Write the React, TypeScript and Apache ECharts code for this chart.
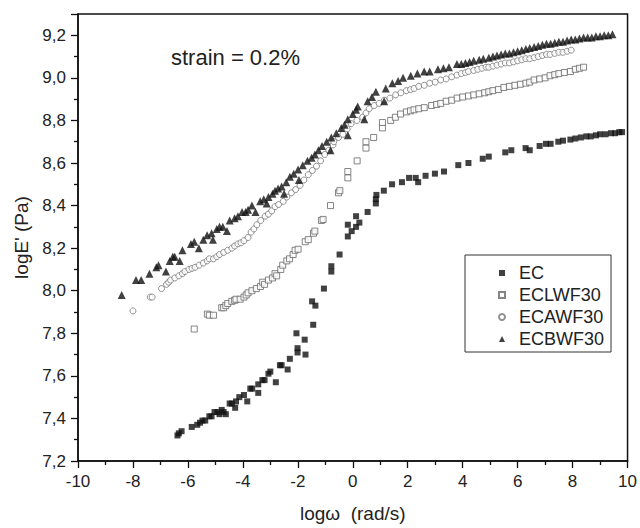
import React, { useEffect, useRef } from "react";
import * as echarts from "echarts";

const FONT = "'Liberation Sans', Arial, sans-serif";

const seriesNames = ["EC", "ECLWF30", "ECAWF30", "ECBWF30"];

const ecData: number[][] = [
  [-6.38, 7.32], [-6.33, 7.33], [-6.23, 7.34], [-5.86, 7.36], [-5.66, 7.37], [-5.56, 7.38], [-5.47, 7.39], [-5.37, 7.39],
  [-5.22, 7.41], [-5.14, 7.41], [-5.03, 7.43], [-4.92, 7.43], [-4.85, 7.42], [-4.77, 7.44], [-4.7, 7.43], [-4.62, 7.42],
  [-4.48, 7.47], [-4.4, 7.47], [-4.28, 7.45], [-4.25, 7.48], [-4.13, 7.5], [-3.96, 7.51], [-3.84, 7.48], [-3.73, 7.54],
  [-3.66, 7.54], [-3.44, 7.56], [-3.44, 7.52], [-3.29, 7.58], [-3.21, 7.58], [-3.07, 7.61], [-3.0, 7.62], [-2.8, 7.57],
  [-2.65, 7.65], [-2.59, 7.65], [-2.37, 7.63], [-2.29, 7.68], [-2.05, 7.8], [-2.01, 7.73], [-2.01, 7.71], [-1.75, 7.77],
  [-1.72, 7.7], [-1.44, 7.84], [-1.48, 7.95], [-1.36, 7.93], [-1.05, 8.01], [-0.78, 8.115], [-0.78, 8.09], [-0.48, 8.17],
  [-0.18, 8.255], [-0.04, 8.28], [-0.18, 8.31], [0.12, 8.35], [0.24, 8.32], [0.12, 8.3], [0.54, 8.37], [0.84, 8.41],
  [0.84, 8.43], [0.86, 8.45], [1.13, 8.47], [1.43, 8.5], [1.79, 8.51], [2.05, 8.53], [2.38, 8.51], [2.29, 8.53],
  [2.65, 8.54], [2.99, 8.55], [3.32, 8.56], [3.84, 8.59], [4.21, 8.6], [4.73, 8.62], [4.95, 8.63], [5.55, 8.65],
  [5.77, 8.66], [6.29, 8.67], [6.44, 8.66], [6.8, 8.68], [7.03, 8.69], [7.2, 8.69], [7.48, 8.7], [7.65, 8.705],
  [7.92, 8.71], [8.1, 8.715], [8.3, 8.72], [8.5, 8.725], [8.66, 8.725], [8.85, 8.73], [9.0, 8.735], [9.2, 8.735],
  [9.4, 8.74], [9.55, 8.74], [9.7, 8.745], [9.8, 8.745],
];

const eclwfData: number[][] = [
  [-5.77, 7.82], [-5.29, 7.89], [-5.22, 7.885], [-5.07, 7.885], [-4.77, 7.92], [-4.7, 7.92], [-4.62, 7.93], [-4.55, 7.94],
  [-4.4, 7.95], [-4.3, 7.955], [-4.25, 7.96], [-4.1, 7.96], [-3.96, 7.97], [-3.88, 7.98], [-3.81, 7.99], [-3.67, 8.0],
  [-3.51, 8.01], [-3.36, 8.02], [-3.28, 8.04], [-3.21, 8.03], [-3.07, 8.05], [-2.92, 8.06], [-2.83, 8.08], [-2.77, 8.07],
  [-2.62, 8.1], [-2.55, 8.12], [-2.4, 8.14], [-2.3, 8.15], [-2.17, 8.17], [-2.1, 8.19], [-1.99, 8.195], [-1.73, 8.23],
  [-1.62, 8.24], [-1.43, 8.27], [-1.38, 8.28], [-1.14, 8.33], [-1.08, 8.335], [-0.81, 8.4], [-0.52, 8.46], [-0.47, 8.47],
  [-0.18, 8.56], [-0.18, 8.53], [0.16, 8.61], [0.48, 8.67], [0.48, 8.7], [0.76, 8.72], [1.08, 8.765], [1.08, 8.79],
  [1.38, 8.8], [1.55, 8.815], [1.74, 8.83], [1.95, 8.84], [2.1, 8.845], [2.23, 8.85], [2.4, 8.855], [2.6, 8.86],
  [2.87, 8.87], [3.05, 8.875], [3.2, 8.88], [3.4, 8.89], [3.6, 8.895], [3.8, 8.905], [4.0, 8.91], [4.21, 8.915],
  [4.4, 8.92], [4.6, 8.925], [4.8, 8.93], [4.95, 8.935], [5.1, 8.94], [5.3, 8.945], [5.5, 8.955], [5.7, 8.96],
  [5.9, 8.965], [6.1, 8.97], [6.3, 8.975], [6.44, 8.98], [6.6, 8.99], [6.8, 8.995], [7.0, 9.0], [7.18, 9.01],
  [7.35, 9.015], [7.5, 9.02], [7.7, 9.025], [7.92, 9.03], [8.1, 9.04], [8.25, 9.045], [8.4, 9.05],
];

const ecawfData: number[][] = [
  [-8.0, 7.905], [-7.37, 7.97], [-7.3, 7.97], [-6.96, 8.01], [-6.78, 8.03], [-6.7, 8.04], [-6.63, 8.05], [-6.48, 8.06],
  [-6.33, 8.07], [-6.2, 8.08], [-6.11, 8.09], [-5.96, 8.1], [-5.85, 8.105], [-5.74, 8.11], [-5.59, 8.12], [-5.44, 8.13],
  [-5.3, 8.14], [-5.22, 8.15], [-5.07, 8.15], [-4.95, 8.16], [-4.85, 8.17], [-4.7, 8.18], [-4.55, 8.19], [-4.4, 8.2],
  [-4.3, 8.21], [-4.18, 8.22], [-4.07, 8.225], [-3.96, 8.235], [-3.81, 8.25], [-3.7, 8.275], [-3.6, 8.29], [-3.49, 8.31],
  [-3.35, 8.33], [-3.19, 8.35], [-3.07, 8.36], [-2.95, 8.375], [-2.83, 8.395], [-2.7, 8.405], [-2.53, 8.42], [-2.4, 8.44],
  [-2.23, 8.46], [-2.08, 8.475], [-1.92, 8.495], [-1.78, 8.52], [-1.62, 8.545], [-1.47, 8.565], [-1.32, 8.585], [-1.17, 8.61],
  [-1.02, 8.64], [-0.87, 8.66], [-0.72, 8.685], [-0.69, 8.7], [-0.52, 8.72], [-0.36, 8.735], [-0.2, 8.76], [-0.06, 8.785],
  [0.15, 8.8], [0.36, 8.815], [0.48, 8.835], [0.6, 8.855], [0.78, 8.87], [0.96, 8.88], [1.15, 8.895], [1.35, 8.905],
  [1.56, 8.92], [1.75, 8.93], [1.95, 8.94], [2.1, 8.945], [2.23, 8.95], [2.4, 8.96], [2.6, 8.965], [2.8, 8.975],
  [3.0, 8.98], [3.2, 8.99], [3.4, 8.995], [3.6, 9.005], [3.79, 9.013], [3.95, 9.02], [4.1, 9.025], [4.21, 9.03],
  [4.4, 9.035], [4.55, 9.04], [4.7, 9.045], [4.85, 9.05], [4.95, 9.05], [5.1, 9.055], [5.25, 9.06], [5.4, 9.065],
  [5.55, 9.07], [5.7, 9.07], [5.85, 9.075], [6.0, 9.08], [6.15, 9.085], [6.3, 9.09], [6.44, 9.09], [6.6, 9.095],
  [6.75, 9.1], [6.9, 9.105], [7.05, 9.11], [7.18, 9.11], [7.35, 9.115], [7.5, 9.12], [7.65, 9.12], [7.8, 9.125],
  [7.95, 9.13],
];

const ecbwfData: number[][] = [
  [-8.41, 7.98], [-7.89, 8.05], [-7.7, 8.05], [-7.4, 8.08], [-7.15, 8.11], [-7.07, 8.12], [-6.8, 8.09], [-6.66, 8.14],
  [-6.55, 8.16], [-6.48, 8.16], [-6.3, 8.14], [-6.2, 8.19], [-5.89, 8.22], [-5.77, 8.23], [-5.6, 8.2], [-5.44, 8.24],
  [-5.3, 8.26], [-5.14, 8.27], [-5.09, 8.24], [-4.95, 8.29], [-4.85, 8.3], [-4.73, 8.3], [-4.58, 8.28], [-4.48, 8.33],
  [-4.3, 8.34], [-4.18, 8.35], [-4.03, 8.37], [-3.9, 8.37], [-3.81, 8.38], [-3.67, 8.4], [-3.54, 8.37], [-3.37, 8.42],
  [-3.24, 8.43], [-3.13, 8.41], [-3.07, 8.44], [-2.92, 8.455], [-2.83, 8.47], [-2.72, 8.48], [-2.59, 8.49], [-2.5, 8.455],
  [-2.42, 8.51], [-2.29, 8.535], [-2.15, 8.55], [-1.99, 8.57], [-1.96, 8.52], [-1.82, 8.59], [-1.65, 8.61], [-1.5, 8.625],
  [-1.38, 8.64], [-1.25, 8.66], [-1.12, 8.68], [-0.95, 8.7], [-0.81, 8.66], [-0.78, 8.72], [-0.6, 8.74], [-0.42, 8.765],
  [-0.3, 8.78], [-0.18, 8.805], [-0.18, 8.73], [0.0, 8.83], [0.12, 8.85], [0.18, 8.865], [0.42, 8.805], [0.54, 8.89],
  [0.7, 8.91], [0.84, 8.935], [1.14, 8.89], [1.2, 8.95], [1.44, 8.975], [1.65, 8.985], [1.83, 9.0], [2.11, 9.01],
  [2.35, 9.02], [2.6, 9.03], [2.8, 9.03], [3.1, 9.04], [3.3, 9.045], [3.5, 9.05], [3.79, 9.065], [3.95, 9.065],
  [4.1, 9.07], [4.25, 9.075], [4.4, 9.08], [4.6, 9.085], [4.75, 9.09], [4.95, 9.095], [5.1, 9.1], [5.25, 9.105],
  [5.4, 9.11], [5.55, 9.115], [5.7, 9.115], [5.85, 9.12], [6.0, 9.125], [6.15, 9.13], [6.3, 9.135], [6.44, 9.14],
  [6.6, 9.145], [6.75, 9.15], [6.9, 9.155], [7.05, 9.16], [7.2, 9.16], [7.35, 9.165], [7.5, 9.17], [7.65, 9.17],
  [7.8, 9.175], [7.95, 9.18], [8.1, 9.18], [8.25, 9.185], [8.4, 9.19], [8.55, 9.19], [8.7, 9.19], [8.85, 9.195],
  [9.0, 9.195], [9.15, 9.2], [9.3, 9.2], [9.45, 9.205],
];

const annotation = "strain = 0.2%";
const xAxisTitle = "log\u03c9  (rad/s)";
const yAxisTitle = "logE' (Pa)";

export default function App() {
  const ref = useRef<HTMLDivElement>(null);
  useEffect(() => {
    document.body.style.margin = "0";
    if (!ref.current) return;
    const chart = echarts.init(ref.current, null, { renderer: "svg" });
    const labelFmt = (v: number) => {
      if (Math.abs(v * 5 - Math.round(v * 5)) > 1e-6) return "";
      return v.toFixed(1).replace(".", ",");
    };
    chart.setOption({
      animation: false,
      backgroundColor: "#fff",
      textStyle: { fontFamily: FONT },
      grid: {
        left: 78, right: 7, top: 14, bottom: 66,
        show: true, borderColor: "#111", borderWidth: 1.5,
      },
      xAxis: {
        type: "value", min: -10, max: 10, interval: 2,
        axisLine: { show: true, onZero: false, lineStyle: { color: "#111", width: 1.5 } },
        axisTick: { show: true, inside: false, length: 7, lineStyle: { color: "#111", width: 1.3 } },
        minorTick: { show: true, splitNumber: 2, length: 4, lineStyle: { color: "#111", width: 1.3 } },
        splitLine: { show: false },
        axisLabel: { color: "#222", fontSize: 17, fontFamily: FONT, margin: 12 },
        name: xAxisTitle, nameLocation: "middle", nameGap: 43,
        nameTextStyle: { color: "#222", fontSize: 19, fontFamily: FONT },
      },
      yAxis: {
        type: "value", min: 7.2, max: 9.3, interval: 0.2,
        axisLine: { show: true, onZero: false, lineStyle: { color: "#111", width: 1.5 } },
        axisTick: { show: true, inside: false, length: 7, lineStyle: { color: "#111", width: 1.3 } },
        minorTick: { show: true, splitNumber: 2, length: 4, lineStyle: { color: "#111", width: 1.3 } },
        splitLine: { show: false },
        axisLabel: { color: "#222", fontSize: 17, fontFamily: FONT, margin: 12, formatter: labelFmt },
        name: yAxisTitle, nameLocation: "middle", nameGap: 39, nameRotate: 90,
        nameTextStyle: { color: "#222", fontSize: 19, fontFamily: FONT },
      },
      legend: {
        orient: "vertical",
        left: 465, top: 255,
        data: seriesNames,
        backgroundColor: "#fff",
        borderColor: "#333", borderWidth: 1,
        padding: [9, 7, 4, 33],
        itemGap: 4,
        itemWidth: 6, itemHeight: 6,
        textStyle: { color: "#222", fontSize: 18, fontFamily: FONT, padding: [0, 0, 0, 9] },
      },
      graphic: [
        {
          type: "text", left: 171, top: 46,
          style: { text: annotation, fill: "#222", fontSize: 22, fontFamily: FONT },
        },
      ],
      series: [
        {
          name: seriesNames[0], type: "scatter", data: ecData,
          symbol: "rect", symbolSize: 6,
          itemStyle: { color: "#111" },
        },
        {
          name: seriesNames[1], type: "scatter", data: eclwfData,
          symbol: "rect", symbolSize: 6,
          itemStyle: { color: "#fff", borderColor: "#666", borderWidth: 1 },
        },
        {
          name: seriesNames[2], type: "scatter", data: ecawfData,
          symbol: "circle", symbolSize: 6,
          itemStyle: { color: "#fff", borderColor: "#777", borderWidth: 1 },
        },
        {
          name: seriesNames[3], type: "scatter", data: ecbwfData,
          symbol: "triangle", symbolSize: 8,
          itemStyle: { color: "#111" },
        },
      ],
    });
    return () => chart.dispose();
  }, []);
  return <div ref={ref} style={{ width: 640, height: 528 }} />;
}
